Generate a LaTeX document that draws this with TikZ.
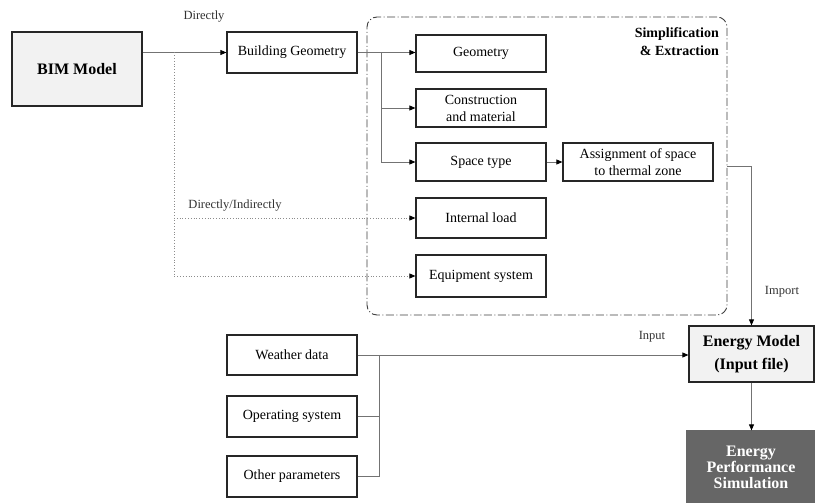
\documentclass[tikz,border=0pt]{standalone}
\usepackage{fontspec}
\setmainfont{Liberation Serif}
\usetikzlibrary{arrows.meta,calc}
\begin{document}
\begin{tikzpicture}[x=1pt,y=-1pt,
  box/.style={draw=black!85,line width=1.2pt,minimum width=130pt,inner sep=0pt,align=center,font=\fontsize{14}{16}\selectfont},
  conn/.style={draw=black!55,line width=0.8pt},
  dotline/.style={draw=black!45,line width=0.8pt,dotted},
  tip/.style={-{Triangle[length=6pt,width=5pt,fill=black,color=black]}},
  lbl/.style={font=\fontsize{12.5}{14}\selectfont,text=black!80},
  bigb/.style={font=\fontsize{16}{18}\selectfont\bfseries}]
\useasboundingbox (0,0) rectangle (815,503);
\fill[white] (0,0) rectangle (815,503);
% container
\node[draw=black!75,line width=0.9pt,dash pattern=on 8pt off 2.5pt on 1pt off 2.5pt,rounded corners=10pt,minimum width=360pt,minimum height=298pt,inner sep=0pt] (cont) at (547,166) {};
\node[anchor=north east,align=right,font=\fontsize{14}{18}\selectfont\bfseries,inner sep=0pt] (simp) at (719,27) {Simplification\\\& Extraction};
% boxes
\node[box,fill=black!5,minimum width=130pt,minimum height=74pt,bigb] (bim) at (77,69) {BIM Model};
\node[box,minimum height=41pt] (bg) at (292,52.5) {Building Geometry};
\node[box,minimum height=37pt] (geo) at (481,53.5) {Geometry};
\node[box,minimum height=38pt,font=\fontsize{14}{17}\selectfont] (con) at (481,108) {Construction\\and material};
\node[box,minimum height=38pt] (st) at (481,162) {Space type};
\node[box,minimum width=150pt,minimum height=38pt,font=\fontsize{14}{17}\selectfont] (as) at (638,162) {Assignment of space\\to thermal zone};
\node[box,minimum height=40pt] (il) at (481,218) {Internal load};
\node[box,minimum height=42pt] (eq) at (481,276) {Equipment system};
\node[box,minimum height=40pt] (wd) at (292,355) {Weather data};
\node[box,minimum height=41pt] (op) at (292,416.5) {Operating system};
\node[box,minimum height=41pt] (ot) at (292,476.5) {Other parameters};
\node[box,fill=black!5,minimum width=125pt,minimum height=56pt,bigb,font=\fontsize{16}{23}\selectfont\bfseries] (em) at (751.5,354) {Energy Model\\(Input file)};
\node[box,draw=black!60,fill=black!60,text=white,minimum width=128pt,minimum height=72pt,font=\fontsize{16}{16}\selectfont\bfseries] (eps) at (751,467) {Energy\\Performance\\Simulation};
% labels
\node[lbl] (l1) at (204,17) {Directly};
\node[lbl] (l2) at (235,206) {Directly/Indirectly};
\node[lbl] (l3) at (782,292) {Import};
\node[lbl] (l4) at (652,337) {Input};
% connectors
\coordinate (d1) at (174,52.5);
\coordinate (b2) at (381,52.5);
\coordinate (jn) at (379,355);
\draw[conn,tip] (bim.east |- bg.west) -- (bg.west);
\draw[dotline,tip] (d1) |- (eq.west);
\draw[dotline,tip] (d1 |- il.west) -- (il.west);
\draw[conn,tip] (bg.east) -- (bg.east -| geo.west);
\draw[conn,tip] (b2) |- (con.west);
\draw[conn,tip] (b2) |- (st.west);
\draw[conn,tip] (st.east) -- (as.west);
\draw[conn,tip] (cont.east) -| (em.north);
\draw[conn,tip] (wd.east) -- (wd.east -| em.west);
\draw[conn] (op.east) -- (op.east -| jn);
\draw[conn] (ot.east) -| (jn);
\draw[conn,tip] (em.south) -- (em.south |- eps.north);
\end{tikzpicture}
\end{document}
